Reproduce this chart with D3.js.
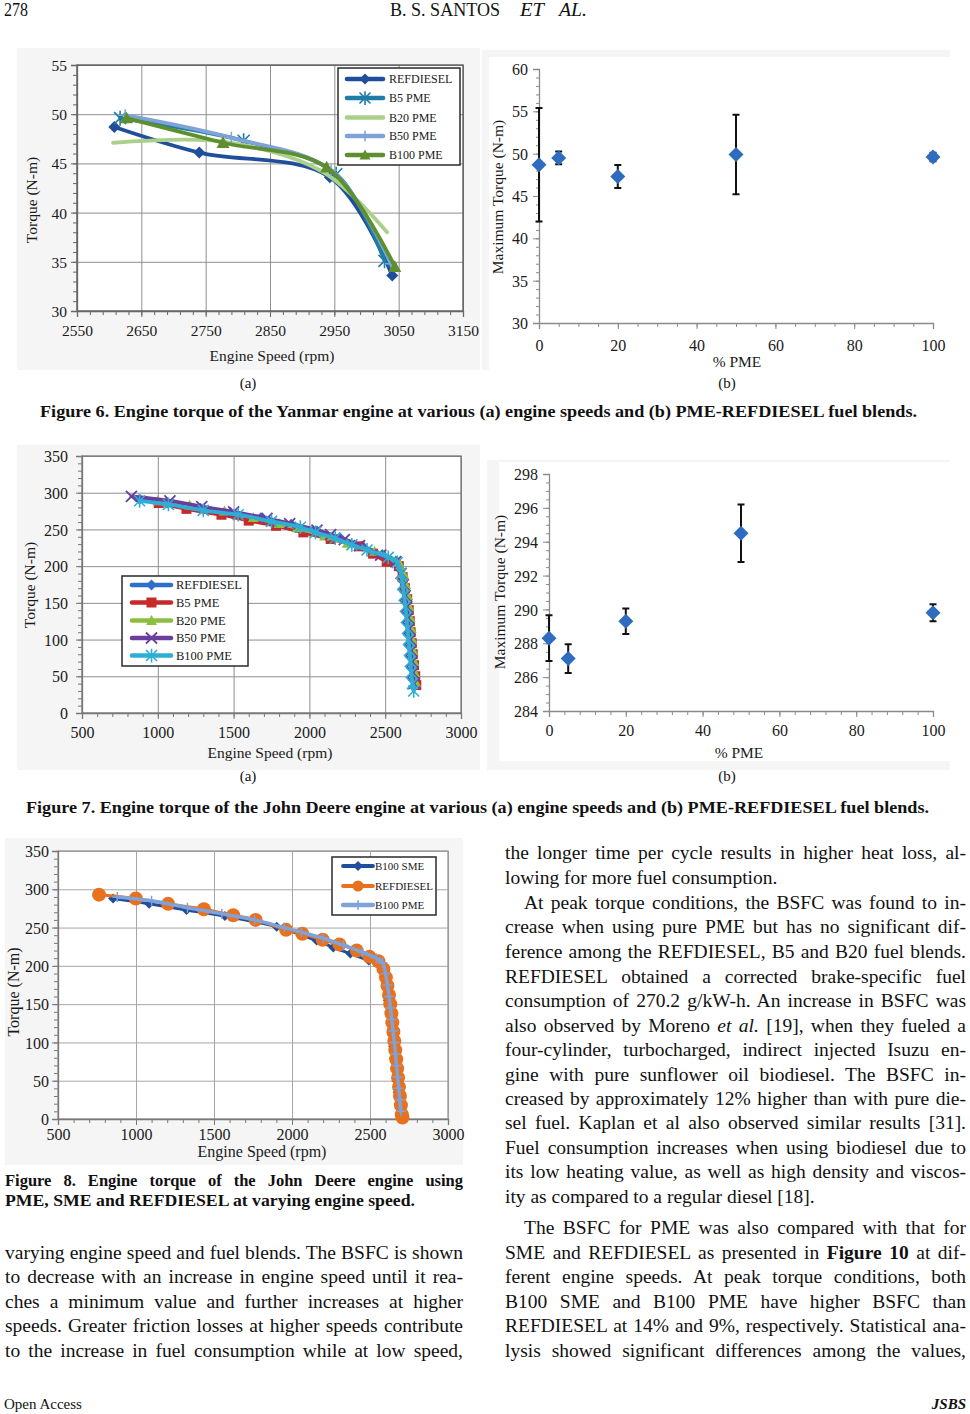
<!DOCTYPE html>
<html><head><meta charset="utf-8">
<script src="https://cdn.jsdelivr.net/npm/d3@7"></script>
<style>body{margin:0;background:#fff}</style>
</head><body>
<script>
// ================= DATA =================
// Figure 6(a) Yanmar engine: [rpm, torque N-m]
const fig6aSeriesNames = ["REFDIESEL","B5 PME","B20 PME","B50 PME","B100 PME"];
const fig6aRpmTicks = [2550,2650,2750,2850,2950,3050,3150];
const fig6aTorqueTicks = [30,35,40,45,50,55];
const fig6aRefdiesel = [[2608,48.7],[2740,46.1],[2943,43.6],[3040,33.6]];
const fig6aB5 = [[2617,49.6],[2809,47.3],[2953,43.9],[3028,35.1]];
const fig6aB20 = [[2606,47.1],[2778,47.2],[2933,44.1],[3032,38.0]];
const fig6aB50 = [[2625,49.9],[2790,47.6],[2945,44.3],[3038,34.8]];
const fig6aB100 = [[2627,49.6],[2777,47.1],[2938,44.6],[3044,34.5]];

// Figure 6(b)
const fig6bPme = [0,5,20,50,100];
const fig6bTorque = [48.7,49.5,47.3,49.9,49.6];
const fig6bError = [6.7,0.75,1.35,4.7,0.5];
const fig6bYTicks = [30,35,40,45,50,55,60];
const fig6bXTicks = [0,20,40,60,80,100];

// Figure 7(a) John Deere engine
const fig7aSeriesNames = ["REFDIESEL","B5 PME","B20 PME","B50 PME","B100 PME"];
const fig7aRpmTicks = [500,1000,1500,2000,2500,3000];
const fig7aTorqueTicks = [0,50,100,150,200,250,300,350];
const fig7aRefdiesel = [[880,291],[1060,286],[1280,279],[1480,273],[1680,266],[1880,257],[2050,248],[2200,239],[2350,227],[2480,216],[2570,207],[2600,195],[2615,180],[2628,165],[2640,150],[2648,135],[2655,120],[2662,105],[2668,90],[2674,75],[2680,60],[2686,45],[2690,36]];
const fig7aB5 = [[1006,286],[1189,278],[1420,270],[1600,262],[1780,255],[1960,246],[2140,237],[2330,227],[2420,217],[2510,206],[2590,200],[2615,185],[2630,170],[2645,155],[2655,140],[2662,125],[2668,110],[2675,95],[2682,80],[2690,65],[2698,50],[2705,38]];
const fig7aB20 = [[1000,289],[1210,283],[1440,275],[1630,266],[1800,258],[1920,252],[2100,241],[2250,231],[2430,220],[2590,205],[2620,190],[2635,175],[2648,160],[2658,145],[2665,130],[2672,115],[2678,100],[2684,85],[2690,70],[2695,55],[2700,42]];
const fig7aB50 = [[826,295],[1080,289],[1290,281],[1500,274],[1720,265],[1870,258],[2050,249],[2140,243],[2230,236],[2330,228],[2470,215],[2570,206],[2605,190],[2620,175],[2632,160],[2642,145],[2650,130],[2657,115],[2664,100],[2670,85],[2676,70],[2682,55],[2688,40]];
const fig7aB100 = [[880,289],[1070,284],[1300,276],[1530,270],[1750,261],[1940,253],[2040,246],[2170,238],[2280,229],[2380,222],[2520,212],[2580,205],[2605,190],[2615,175],[2625,160],[2633,145],[2640,130],[2647,115],[2654,100],[2660,85],[2666,70],[2672,55],[2680,40],[2688,30]];

// Figure 7(b)
const fig7bPme = [0,5,20,50,100];
const fig7bTorque = [288.3,287.1,289.3,294.5,289.8];
const fig7bError = [1.35,0.85,0.75,1.7,0.5];
const fig7bYTicks = [284,286,288,290,292,294,296,298];
const fig7bXTicks = [0,20,40,60,80,100];

// Figure 8
const fig8SeriesNames = ["B100 SME","REFDIESEL","B100 PME"];
const fig8RpmTicks = [500,1000,1500,2000,2500,3000];
const fig8TorqueTicks = [0,50,100,150,200,250,300,350];
const fig8Sme = [[853,288],[1084,281],[1324,273],[1570,265],[1902,251],[2158,233],[2265,224],[2374,216],[2492,207],[2570,200],[2590,185],[2605,170],[2615,155],[2625,140],[2633,125],[2640,110],[2648,95],[2655,80],[2662,65],[2670,50],[2678,35],[2685,20],[2692,5]];
const fig8Refdiesel = [[763,293],[999,288],[1206,281],[1435,274],[1623,266],[1767,260],[1962,247],[2066,242],[2197,234],[2304,228],[2415,220],[2496,212],[2554,206],[2586,196],[2602,185],[2612,174],[2622,162],[2630,150],[2637,138],[2643,126],[2650,114],[2656,102],[2662,90],[2668,78],[2674,66],[2680,54],[2686,42],[2692,30],[2698,18],[2704,6],[2708,2]];
const fig8Pme = [[880,290],[1100,285],[1330,276],[1550,268],[1760,260],[1950,250],[2060,244],[2200,236],[2330,227],[2450,218],[2540,210],[2580,204],[2600,190],[2612,175],[2622,160],[2631,145],[2640,130],[2648,115],[2656,100],[2663,85],[2670,70],[2677,55],[2684,40],[2691,25],[2698,10]];

// ================= TEXT =================
const headerPage = "278";
const headerAuthors = ["B. S. SANTOS", "ET", "AL."];
const caption6 = "Figure 6. Engine torque of the Yanmar engine at various (a) engine speeds and (b) PME-REFDIESEL fuel blends.";
const caption7 = "Figure 7. Engine torque of the John Deere engine at various (a) engine speeds and (b) PME-REFDIESEL fuel blends.";
const caption8 = ["Figure 8. Engine torque of the John Deere engine using","PME, SME and REFDIESEL at varying engine speed."];
const leftText = [
 "varying engine speed and fuel blends. The BSFC is shown",
 "to decrease with an increase in engine speed until it rea-",
 "ches a minimum value and further increases at higher",
 "speeds. Greater friction losses at higher speeds contribute",
 "to the increase in fuel consumption while at low speed,"];
const rightText = [
 "the longer time per cycle results in higher heat loss, al-",
 "lowing for more fuel consumption.",
 "At peak torque conditions, the BSFC was found to in-",
 "crease when using pure PME but has no significant dif-",
 "ference among the REFDIESEL, B5 and B20 fuel blends.",
 "REFDIESEL obtained a corrected brake-specific fuel",
 "consumption of 270.2 g/kW-h. An increase in BSFC was",
 "also observed by Moreno *et al.* [19], when they fueled a",
 "four-cylinder, turbocharged, indirect injected Isuzu en-",
 "gine with pure sunflower oil biodiesel. The BSFC in-",
 "creased by approximately 12% higher than with pure die-",
 "sel fuel. Kaplan et al also observed similar results [31].",
 "Fuel consumption increases when using biodiesel due to",
 "its low heating value, as well as high density and viscos-",
 "ity as compared to a regular diesel [18].",
 "The BSFC for PME was also compared with that for",
 "SME and REFDIESEL as presented in **Figure 10** at dif-",
 "ferent engine speeds. At peak torque conditions, both",
 "B100 SME and B100 PME have higher BSFC than",
 "REFDIESEL at 14% and 9%, respectively. Statistical ana-",
 "lysis showed significant differences among the values,"];
const rightNoJustify = [1,14];
const rightIndent = [2,15];

// ================= DRAWING =================
const SERIF = "'Liberation Serif','Times New Roman',serif";
const svg = d3.select('body').append('svg').attr('width',970).attr('height',1414)
  .attr('font-family',SERIF);

function drawMarker(g, type, s, color){
  switch(type){
    case 'diamond': g.append('path').attr('d',`M0,${-s}L${s},0L0,${s}L${-s},0Z`).attr('fill',color); break;
    case 'square': g.append('rect').attr('x',-s).attr('y',-s).attr('width',2*s).attr('height',2*s).attr('fill',color); break;
    case 'triangle': g.append('path').attr('d',`M0,${-s}L${s},${s*0.8}L${-s},${s*0.8}Z`).attr('fill',color); break;
    case 'circle': g.append('circle').attr('r',s).attr('fill',color); break;
    case 'x': g.append('path').attr('d',`M${-s},${-s}L${s},${s}M${-s},${s}L${s},${-s}`).attr('stroke',color).attr('stroke-width',1.8).attr('fill','none'); break;
    case 'asterisk': g.append('path').attr('d',`M${-s},${-s}L${s},${s}M${-s},${s}L${s},${-s}M0,${-s*1.25}L0,${s*1.25}`).attr('stroke',color).attr('stroke-width',1.6).attr('fill','none'); break;
    case 'plus': g.append('path').attr('d',`M${-s},0L${s},0M0,${-s}L0,${s}`).attr('stroke',color).attr('stroke-width',1.5).attr('fill','none'); break;
  }
}

function styleAxisText(sel, size){
  sel.selectAll('text').attr('font-family',SERIF).attr('font-size',size).attr('fill','#1a1a1a');
}

function lineChart(o){
  const g = svg.append('g');
  const P = o.plot;
  g.append('rect').attr('x',o.bg[0]).attr('y',o.bg[1]).attr('width',o.bg[2]).attr('height',o.bg[3]).attr('fill','#f5f5f5');
  g.append('rect').attr('x',P.x0).attr('y',P.y0).attr('width',P.x1-P.x0).attr('height',P.y1-P.y0).attr('fill','#fff');
  const x = d3.scaleLinear().domain(o.xDomain).range([P.x0,P.x1]);
  const y = d3.scaleLinear().domain(o.yDomain).range([P.y1,P.y0]);
  g.append('g').attr('transform',`translate(0,${P.y1})`)
    .call(d3.axisBottom(x).tickValues(o.xTicks).tickSize(-(P.y1-P.y0)).tickFormat(''))
    .call(s=>{s.select('.domain').remove(); s.selectAll('line').attr('stroke',o.grid).attr('stroke-width',1);});
  g.append('g').attr('transform',`translate(${P.x0},0)`)
    .call(d3.axisLeft(y).tickValues(o.yTicks).tickSize(-(P.x1-P.x0)).tickFormat(''))
    .call(s=>{s.select('.domain').remove(); s.selectAll('line').attr('stroke',o.grid).attr('stroke-width',1);});
  g.append('g').attr('transform',`translate(0,${P.y1})`)
    .call(d3.axisBottom(x).tickValues(d3.range(o.xDomain[0],o.xDomain[1]+0.001,o.xMinor)).tickSize(4).tickFormat(''))
    .call(s=>{s.select('.domain').remove(); s.selectAll('line').attr('stroke',o.axisColor);});
  g.append('g').attr('transform',`translate(${P.x0},0)`)
    .call(d3.axisLeft(y).tickValues(d3.range(o.yDomain[0],o.yDomain[1]+0.001,o.yMinor)).tickSize(4).tickFormat(''))
    .call(s=>{s.select('.domain').remove(); s.selectAll('line').attr('stroke',o.axisColor);});
  g.append('rect').attr('x',P.x0).attr('y',P.y0).attr('width',P.x1-P.x0).attr('height',P.y1-P.y0)
    .attr('fill','none').attr('stroke',o.borderColor).attr('stroke-width',1.3);
  g.append('g').attr('transform',`translate(0,${P.y1})`)
    .call(d3.axisBottom(x).tickValues(o.xTicks).tickSize(6).tickFormat(d=>d))
    .call(s=>{s.select('.domain').attr('stroke',o.axisColor).attr('stroke-width',1.3); s.selectAll('line').attr('stroke',o.axisColor);
      styleAxisText(s, o.tickSize); s.selectAll('text').attr('y',o.xLabOff).attr('dy','0.35em');});
  g.append('g').attr('transform',`translate(${P.x0},0)`)
    .call(d3.axisLeft(y).tickValues(o.yTicks).tickSize(6).tickFormat(d=>d))
    .call(s=>{s.select('.domain').attr('stroke',o.axisColor).attr('stroke-width',1.3); s.selectAll('line').attr('stroke',o.axisColor);
      styleAxisText(s, o.tickSize); s.selectAll('text').attr('x',-o.yLabOff).attr('dy','0.35em');});
  g.append('text').attr('x',o.xTitle[0]).attr('y',o.xTitle[1]).attr('dy','0.35em').attr('text-anchor','middle')
    .attr('font-size',o.titleSize).attr('fill','#1a1a1a').text(o.xTitleText);
  g.append('text').attr('transform',`translate(${o.yTitle[0]},${o.yTitle[1]}) rotate(-90)`).attr('dy','0.35em').attr('text-anchor','middle')
    .attr('font-size',o.titleSize).attr('fill','#1a1a1a').text(o.yTitleText);
  const line = d3.line().x(d=>x(d[0])).y(d=>y(d[1])).curve(d3.curveCatmullRom.alpha(0.5));
  o.series.forEach(se=>{
    g.append('path').attr('d',line(se.data)).attr('fill','none').attr('stroke',se.color)
      .attr('stroke-width',se.width).attr('stroke-linejoin','round').attr('stroke-linecap','round');
    if (se.marker) se.data.forEach(d=>{
      const m = g.append('g').attr('transform',`translate(${x(d[0])},${y(d[1])})`);
      drawMarker(m, se.marker, se.msize, se.color);
    });
  });
  const L = o.legend;
  g.append('rect').attr('x',L.box[0]).attr('y',L.box[1]).attr('width',L.box[2]).attr('height',L.box[3])
    .attr('fill','#fff').attr('stroke','#2a2a2a').attr('stroke-width',1.5);
  o.series.forEach((se,i)=>{
    const yy = L.rows[i];
    g.append('line').attr('x1',L.line[0]).attr('x2',L.line[1]).attr('y1',yy).attr('y2',yy)
      .attr('stroke',se.color).attr('stroke-width',se.width+0.8).attr('stroke-linecap','round');
    if (se.marker){
      const m = g.append('g').attr('transform',`translate(${(L.line[0]+L.line[1])/2},${yy})`);
      drawMarker(m, se.marker, Math.min(se.msize,5.5), se.color);
    }
    g.append('text').attr('x',L.textX).attr('y',yy).attr('dy','0.35em').attr('font-size',L.font)
      .attr('fill','#1a1a1a').text(se.name);
  });
}

function scatterChart(o){
  const g = svg.append('g');
  g.append('rect').attr('x',o.bg[0]).attr('y',o.bg[1]).attr('width',o.bg[2]).attr('height',o.bg[3]).attr('fill','#f5f5f5');
  g.append('rect').attr('x',o.plot.x0-50).attr('y',o.plot.y0-12).attr('width',o.plot.x1-o.plot.x0+70).attr('height',o.plot.y1-o.plot.y0+62).attr('fill','#fff');
  const P = o.plot;
  const x = d3.scaleLinear().domain(o.xDomain).range([P.x0,P.x1]);
  const y = d3.scaleLinear().domain(o.yDomain).range([P.y1,P.y0]);
  const ac = '#8a8a8a';
  g.append('g').attr('transform',`translate(0,${P.y1})`)
    .call(d3.axisBottom(x).tickValues(d3.range(o.xDomain[0],o.xDomain[1]+0.001,o.xMinor)).tickSize(4).tickFormat(''))
    .call(s=>{s.select('.domain').remove(); s.selectAll('line').attr('stroke',ac);});
  g.append('g').attr('transform',`translate(${P.x0},0)`)
    .call(d3.axisLeft(y).tickValues(d3.range(o.yDomain[0],o.yDomain[1]+0.001,o.yMinor)).tickSize(3).tickFormat(''))
    .call(s=>{s.select('.domain').remove(); s.selectAll('line').attr('stroke',ac);});
  g.append('g').attr('transform',`translate(0,${P.y1})`)
    .call(d3.axisBottom(x).tickValues(o.xTicks).tickSize(6).tickFormat(d=>d))
    .call(s=>{s.select('.domain').attr('stroke',ac).attr('stroke-width',1.3); s.selectAll('line').attr('stroke',ac);
      styleAxisText(s, 16); s.selectAll('text').attr('y',o.xLabOff).attr('dy','0.35em');});
  g.append('g').attr('transform',`translate(${P.x0},0)`)
    .call(d3.axisLeft(y).tickValues(o.yTicks).tickSize(6).tickFormat(d=>d))
    .call(s=>{s.select('.domain').attr('stroke',ac).attr('stroke-width',1.3); s.selectAll('line').attr('stroke',ac);
      styleAxisText(s, 16); s.selectAll('text').attr('x',-o.yLabOff).attr('dy','0.35em');});
  g.append('text').attr('x',o.xTitle[0]).attr('y',o.xTitle[1]).attr('dy','0.35em').attr('text-anchor','middle')
    .attr('font-size',15.5).attr('fill','#1a1a1a').text('% PME');
  g.append('text').attr('transform',`translate(${o.yTitle[0]},${o.yTitle[1]}) rotate(-90)`).attr('dy','0.35em').attr('text-anchor','middle')
    .attr('font-size',15.5).attr('fill','#1a1a1a').text('Maximum Torque (N-m)');
  o.xs.forEach((v,i)=>{
    const cx = x(v), t = y(o.ys[i]+o.err[i]), b = y(o.ys[i]-o.err[i]);
    g.append('path').attr('d',`M${cx},${t}L${cx},${b}M${cx-3.5},${t}L${cx+3.5},${t}M${cx-3.5},${b}L${cx+3.5},${b}`)
      .attr('stroke','#111').attr('stroke-width',2).attr('fill','none');
  });
  o.xs.forEach((v,i)=>{
    const m = g.append('g').attr('transform',`translate(${x(v)},${y(o.ys[i])})`);
    drawMarker(m,'diamond',7.5,'#2f6cc0');
  });
}

// ---- Figure 6b (drawn first so 6a labels stay on top)
scatterChart({
  bg:[482,50,468,320], plot:{x0:539,y0:69,x1:933,y1:323},
  xDomain:[0,100], yDomain:[30,60], xTicks:fig6bXTicks, yTicks:fig6bYTicks, xMinor:5, yMinor:1,
  xLabOff:22, yLabOff:11, xTitle:[737,362], yTitle:[498,197],
  xs:fig6bPme, ys:fig6bTorque, err:fig6bError
});
// ---- Figure 7b
scatterChart({
  bg:[487,460,463,310], plot:{x0:549,y0:474,x1:933,y1:711},
  xDomain:[0,100], yDomain:[284,298], xTicks:fig7bXTicks, yTicks:fig7bYTicks, xMinor:4, yMinor:0.5,
  xLabOff:19, yLabOff:11, xTitle:[739,753], yTitle:[500,592],
  xs:fig7bPme, ys:fig7bTorque, err:fig7bError
});
// ---- Figure 6a
lineChart({
  bg:[17,48,463,322], plot:{x0:77,y0:65,x1:463,y1:311},
  xDomain:[2550,3150], yDomain:[30,55], xTicks:fig6aRpmTicks, yTicks:fig6aTorqueTicks, xMinor:20, yMinor:1,
  grid:'#8e8e8e', axisColor:'#666', borderColor:'#555', tickSize:15.5, titleSize:15.5,
  xLabOff:20, yLabOff:10, xTitle:[272,356], yTitle:[32,200], xTitleText:'Engine Speed (rpm)', yTitleText:'Torque (N-m)',
  series:[
    {name:fig6aSeriesNames[0], data:fig6aRefdiesel, color:'#1f4e9c', width:3.8, marker:'diamond', msize:6},
    {name:fig6aSeriesNames[1], data:fig6aB5, color:'#1e7ca6', width:3.8, marker:'asterisk', msize:6},
    {name:fig6aSeriesNames[2], data:fig6aB20, color:'#abd08a', width:3.8, marker:null},
    {name:fig6aSeriesNames[3], data:fig6aB50, color:'#7fa2d9', width:3.8, marker:'plus', msize:6},
    {name:fig6aSeriesNames[4], data:fig6aB100, color:'#5e8f2e', width:3.8, marker:'triangle', msize:6.5}],
  legend:{box:[338,68,122,97], rows:[79,98,117.5,136,155], line:[347,383], textX:389, font:12}
});
// ---- Figure 7a
lineChart({
  bg:[17,445,463,325], plot:{x0:82,y0:456,x1:461,y1:713},
  xDomain:[500,3000], yDomain:[0,350], xTicks:fig7aRpmTicks, yTicks:fig7aTorqueTicks, xMinor:100, yMinor:10,
  grid:'#8e8e8e', axisColor:'#777', borderColor:'#777', tickSize:16, titleSize:15.5,
  xLabOff:19, yLabOff:14, xTitle:[270,753], yTitle:[30,585], xTitleText:'Engine Speed (rpm)', yTitleText:'Torque (N-m)',
  series:[
    {name:fig7aSeriesNames[0], data:fig7aRefdiesel, color:'#2f6fc8', width:3.8, marker:'diamond', msize:5.5},
    {name:fig7aSeriesNames[1], data:fig7aB5, color:'#c62a2a', width:3.8, marker:'square', msize:5},
    {name:fig7aSeriesNames[2], data:fig7aB20, color:'#8cbf3f', width:3.8, marker:'triangle', msize:5.5},
    {name:fig7aSeriesNames[3], data:fig7aB50, color:'#6b3e9e', width:3.8, marker:'x', msize:5.5},
    {name:fig7aSeriesNames[4], data:fig7aB100, color:'#2eaed6', width:3.8, marker:'asterisk', msize:5.5}],
  legend:{box:[122,576,126,90], rows:[585,602.5,620.5,638,655.5], line:[132,171], textX:176, font:12.5}
});
// ---- Figure 8
lineChart({
  bg:[5,838,458,327], plot:{x0:58,y0:851,x1:448,y1:1119},
  xDomain:[500,3000], yDomain:[0,350], xTicks:fig8RpmTicks, yTicks:fig8TorqueTicks, xMinor:100, yMinor:10,
  grid:'#a6a6a6', axisColor:'#777', borderColor:'#999', tickSize:16, titleSize:16,
  xLabOff:15, yLabOff:9, xTitle:[262,1151], yTitle:[13,992], xTitleText:'Engine Speed (rpm)', yTitleText:'Torque (N-m)',
  series:[
    {name:fig8SeriesNames[0], data:fig8Sme, color:'#1f4e9c', width:3, marker:'diamond', msize:5},
    {name:fig8SeriesNames[1], data:fig8Refdiesel, color:'#e8711e', width:3, marker:'circle', msize:7},
    {name:fig8SeriesNames[2], data:fig8Pme, color:'#7fa2d9', width:3.5, marker:'plus', msize:5}],
  legend:{box:[332,857,104,58], rows:[866,886,905], line:[343,373], textX:375, font:11}
});

// ================= PAGE TEXT =================
function fitText(x, y, str, size, width, opts={}){
  const t = svg.append('text').attr('x',x).attr('y',y).attr('font-size',size).attr('fill','#111');
  if (opts.weight) t.attr('font-weight',opts.weight);
  if (opts.style) t.attr('font-style',opts.style);
  if (opts.anchor) t.attr('text-anchor',opts.anchor);
  t.text(str);
  if (width) t.attr('textLength',width).attr('lengthAdjust','spacingAndGlyphs');
  return t;
}
function richLine(x, y, str, size, width, justify, weight){
  const t = svg.append('text').attr('x',x).attr('y',y).attr('font-size',size).attr('fill','#111');
  if (weight) t.attr('font-weight',weight);
  str.split(/(\*\*[^*]+\*\*|\*[^*]+\*)/).filter(s=>s.length).forEach(p=>{
    const ts = t.append('tspan');
    if (p.startsWith('**')) ts.attr('font-weight','bold').text(p.slice(2,-2));
    else if (p.startsWith('*')) ts.attr('font-style','italic').text(p.slice(1,-1));
    else ts.text(p);
  });
  if (justify){
    const w = t.node().getComputedTextLength();
    const n = (t.text().match(/ /g)||[]).length;
    if (n>0) t.attr('word-spacing',(width-w)/n);
  }
  return t;
}

// header
fitText(4,16,headerPage,18,24);
fitText(390,16,headerAuthors[0],18,110);
fitText(520,16,headerAuthors[1],18,24,{style:'italic'});
fitText(559,16,headerAuthors[2],18,28,{style:'italic'});

// subcaptions & captions
fitText(248,388,'(a)',15,null,{anchor:'middle'});
fitText(727,388,'(b)',15,null,{anchor:'middle'});
fitText(40,417,caption6,17.5,877,{weight:'bold'});
fitText(248,781,'(a)',15,null,{anchor:'middle'});
fitText(727,781,'(b)',15,null,{anchor:'middle'});
fitText(26,813,caption7,17.5,903,{weight:'bold'});

// figure 8 caption
richLine(5,1185.5,caption8[0],16.5,458,true,'bold');
fitText(5,1206,caption8[1],16.5,410,{weight:'bold'});

// body text
const BODY = 19.5;
const rightY = [853,878,903,927,952,977,1001,1026,1050,1075,1099,1123,1148,1172,1197,1228,1252.5,1277,1301.5,1326,1350.5];
rightText.forEach((s,i)=>{
  const indent = rightIndent.includes(i) ? 19 : 0;
  richLine(505+indent, rightY[i]+6, s, BODY, 461-indent, !rightNoJustify.includes(i));
});
const leftY = [1252.5,1277,1301.5,1326,1350.5];
leftText.forEach((s,i)=> richLine(5, leftY[i]+6, s, BODY, 458, true));

// footer
fitText(4,1409,'Open Access',15);
fitText(966,1409,'JSBS',15,null,{anchor:'end',weight:'bold',style:'italic'});
</script>
</body></html>
